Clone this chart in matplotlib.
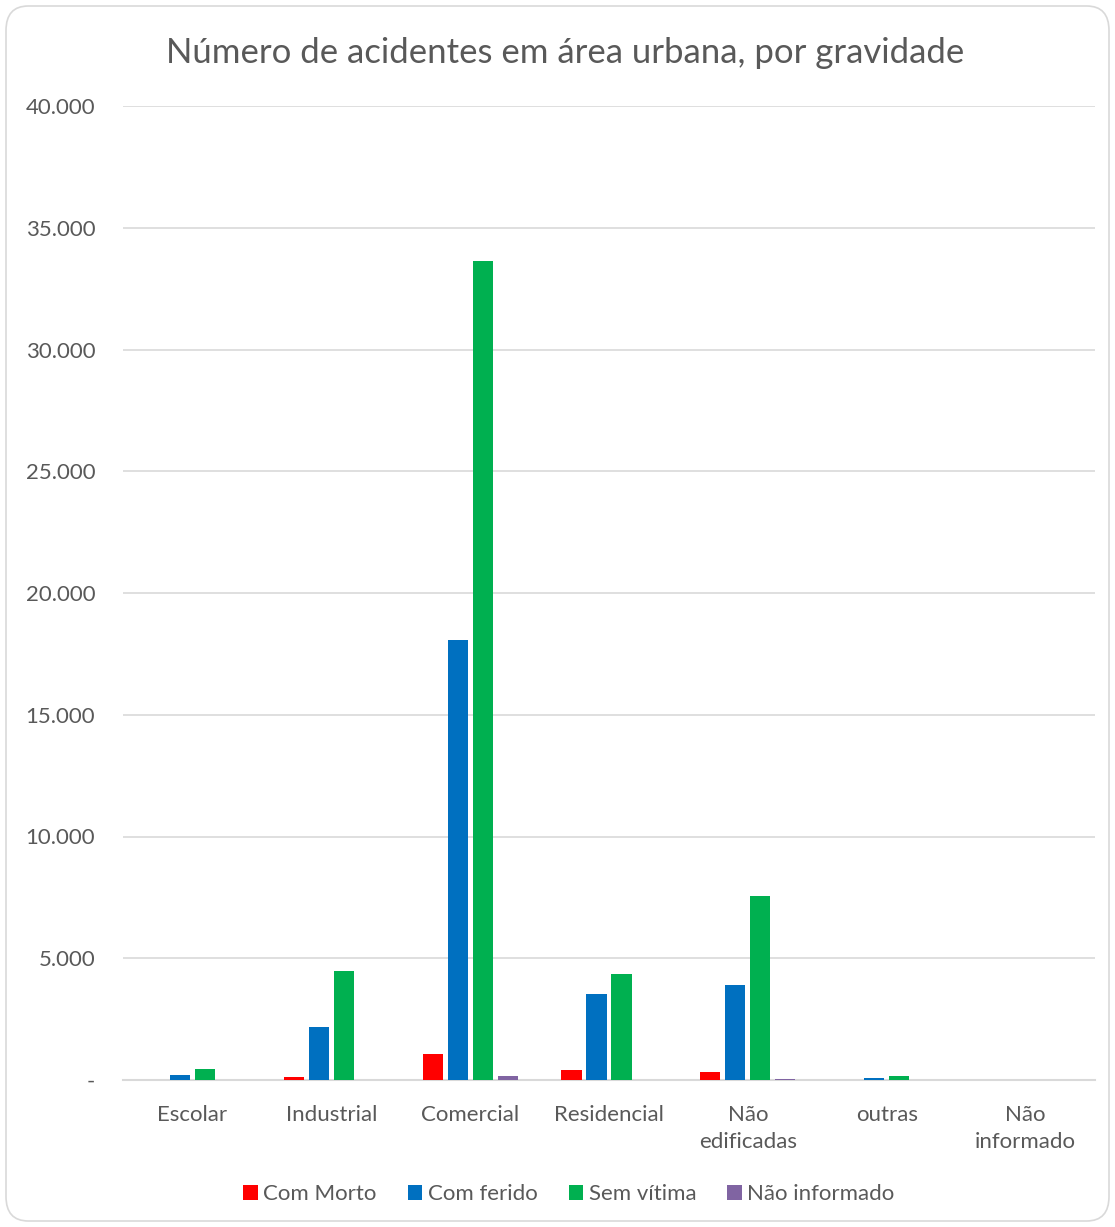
import matplotlib
matplotlib.use("Agg")
import matplotlib.pyplot as plt
import numpy as np
from matplotlib.patches import FancyBboxPatch, Patch

categories = ["Escolar", "Industrial", "Comercial", "Residencial", "Não\nedificadas", "outras", "Não\ninformado"]
series_names = ["Com Morto", "Com ferido", "Sem vítima", "Não informado"]
com_morto = [20, 140, 1070, 410, 340, 10, 0]
com_ferido = [200, 2180, 18070, 3530, 3900, 100, 0]
sem_vitima = [450, 4480, 33630, 4350, 7560, 160, 0]
nao_informado = [0, 0, 180, 0, 40, 0, 0]
yticks = [0, 5000, 10000, 15000, 20000, 25000, 30000, 35000, 40000]
ytick_labels = ["-", "5.000", "10.000", "15.000", "20.000", "25.000", "30.000", "35.000", "40.000"]
colors = ["#FF0000", "#0070C0", "#00B050", "#8064A2"]

plt.rcParams['font.family'] = ['Lato', 'DejaVu Sans']

W, H = 1115, 1227
fig = plt.figure(figsize=(W/100, H/100), dpi=100)
ax = fig.add_axes([123/W, 1 - 1080/H, (1095-123)/W, (1080-106)/H])

x = np.arange(len(categories))
step = 0.18
bw = 0.145
data = [com_morto, com_ferido, sem_vitima, nao_informado]
for i, (vals, c) in enumerate(zip(data, colors)):
    ax.bar(x + (i - 1.5) * step, vals, width=bw, color=c, zorder=3)

ax.set_xlim(-0.5, len(categories) - 0.5)
ax.set_ylim(0, 40000)
ax.set_yticks(yticks)
ax.set_yticklabels(ytick_labels)
ax.set_xticks(x)
ax.set_xticklabels(categories, linespacing=1.45)
ax.grid(axis='y', color='#D9D9D9', linewidth=1.2, zorder=0)
for s in ['top', 'right', 'left']:
    ax.spines[s].set_visible(False)
ax.spines['bottom'].set_color('#D9D9D9')
ax.spines['bottom'].set_linewidth(1.5)
ax.tick_params(axis='both', length=0, labelsize=16, labelcolor='#595959')
ax.tick_params(axis='x', pad=18)
ax.tick_params(axis='y', pad=20)

fig.text(565/W, 1 - 53/H, "Número de acidentes em área urbana, por gravidade",
         ha='center', va='center', fontsize=25, color='#595959')

handles = [Patch(facecolor=c, edgecolor='none') for c in colors]
fig.legend(handles, series_names, loc='center', bbox_to_anchor=(569/W, 1 - 1194/H),
           ncol=4, frameon=False, fontsize=16, handlelength=0.65, handleheight=0.65,
           handletextpad=0.25, columnspacing=1.4, labelcolor='#595959')

border = FancyBboxPatch((6/W, 6/H), (W-12)/W, (H-12)/H,
                        boxstyle="round,pad=0,rounding_size=0.02",
                        transform=fig.transFigure, facecolor='none',
                        edgecolor='#D9D9D9', linewidth=1.2)
fig.patches.append(border)

fig.savefig("out.png", dpi=100)
